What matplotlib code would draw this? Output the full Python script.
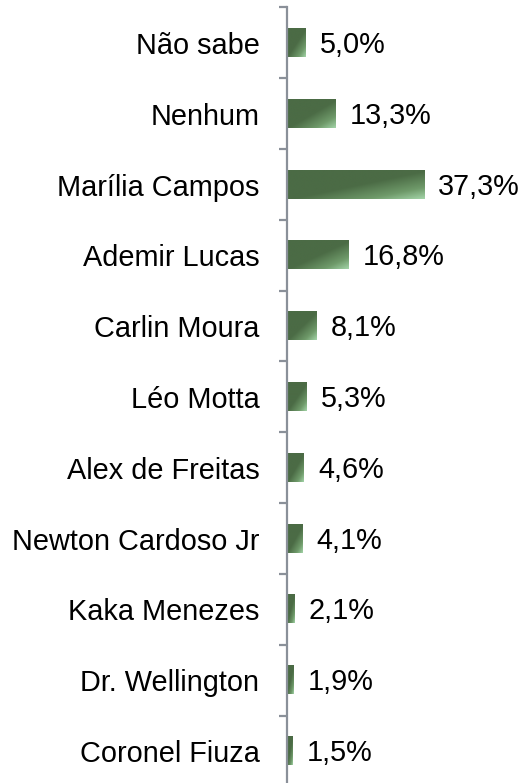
import numpy as np
import matplotlib
matplotlib.use("Agg")
import matplotlib.pyplot as plt
from matplotlib.colors import LinearSegmentedColormap

# dados (de cima para baixo)
candidatos = ["Não sabe", "Nenhum", "Marília Campos", "Ademir Lucas", "Carlin Moura",
              "Léo Motta", "Alex de Freitas", "Newton Cardoso Jr", "Kaka Menezes",
              "Dr. Wellington", "Coronel Fiuza"]
valores = [5.0, 13.3, 37.3, 16.8, 8.1, 5.3, 4.6, 4.1, 2.1, 1.9, 1.5]
rotulos = ["5,0%", "13,3%", "37,3%", "16,8%", "8,1%", "5,3%", "4,6%", "4,1%",
           "2,1%", "1,9%", "1,5%"]

plt.rcParams['font.family'] = ['Liberation Sans', 'DejaVu Sans']

W, H, DPI = 525, 783, 100
fig = plt.figure(figsize=(W / DPI, H / DPI), dpi=DPI)

topo = 7.5
passo = 70.8
n = len(candidatos)
base = topo + n * passo
ax = fig.add_axes([286.5 / W, 1 - base / H, 1 - 286.5 / W, (base - topo) / H])

# gradiente diagonal (escuro -> claro no canto inferior direito)
cmap = LinearSegmentedColormap.from_list(
    "verde", [(0.0, "#4b6b45"), (0.52, "#4b6b45"), (0.8, "#6f9a6a"), (1.0, "#a3d4a8")])
u = np.linspace(0, 1, 200)[None, :]
v = np.linspace(0, 1, 60)[:, None]
grad = (u + v) / 2

altura = 0.40
for i, (val, txt) in enumerate(zip(valores, rotulos)):
    ax.imshow(grad, cmap=cmap, vmin=0, vmax=1, aspect='auto', interpolation='bilinear',
              extent=(0, val, i + altura / 2, i - altura / 2), zorder=1)
    ax.annotate(txt, xy=(val, i), xytext=(10.6, -1.5), textcoords='offset points',
                va='center', ha='left', fontsize=20.8, color='black')

ax.set_xlim(0, 64.9)
ax.set_ylim(n - 0.5, -0.5)

for s in ["top", "right", "bottom"]:
    ax.spines[s].set_visible(False)
ax.spines["left"].set_color("#8a9099")
ax.spines["left"].set_linewidth(1.6)
ax.spines["left"].set_zorder(3)

ax.set_xticks([])
ax.set_yticks(range(n))
ax.set_yticklabels(candidatos, fontsize=20.8)
ax.tick_params(axis='y', which='major', length=0, pad=19.5)
ax.set_yticks(np.arange(-0.5, n + 0.5, 1), minor=True)
ax.tick_params(axis='y', which='minor', length=6, width=1.6, color="#8a9099", direction='out')

fig.savefig("out.png", dpi=DPI)
